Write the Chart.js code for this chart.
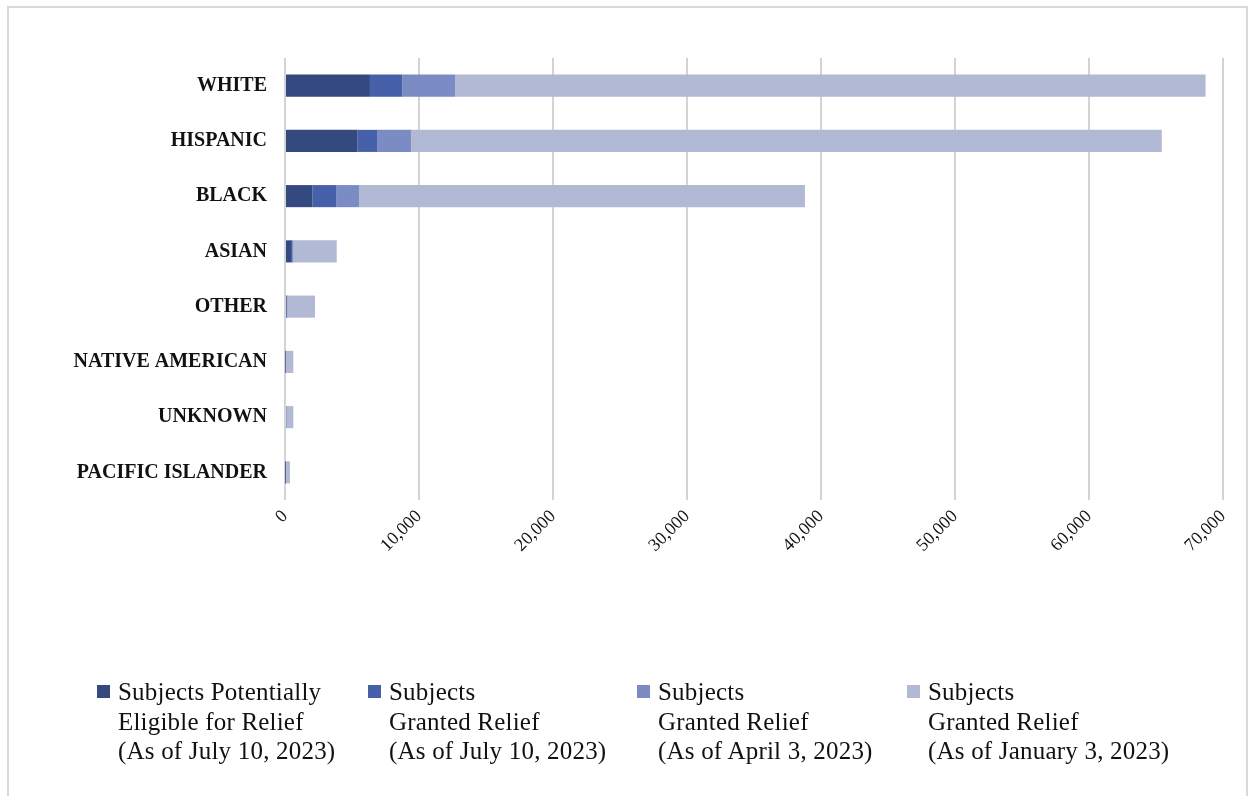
<!DOCTYPE html>
<html>
<head>
<meta charset="utf-8">
<script src="https://cdn.jsdelivr.net/npm/chart.js@4/dist/chart.umd.min.js"></script>
<style>
  html, body { margin: 0; padding: 0; background: #fff; }
  #wrap { position: relative; width: 1253px; height: 796px; overflow: hidden; }
  #frame { position: absolute; left: 7px; top: 6px; width: 1241px; height: 800px;
           border: 2px solid #d9d9d9; box-sizing: border-box; }
  #chart { position: absolute; left: 0; top: 0; }
  #legend { position: absolute; top: 677px; left: 0; width: 1253px;
            font-family: "Liberation Serif", "Times New Roman", serif;
            font-size: 25px; letter-spacing: 0.2px; color: #111; line-height: 29.5px; }
  .item { position: absolute; top: 0; padding-left: 21px; white-space: nowrap; }
  .item .sw { position: absolute; left: 0; top: 8px; width: 13px; height: 13px; }
</style>
</head>
<body>
<div id="wrap">
  <div id="frame"></div>
  <canvas id="chart" width="1253" height="796"></canvas>
  <div id="legend"></div>
</div>
<script>
// categories, top to bottom
const categories = ['WHITE', 'HISPANIC', 'BLACK', 'ASIAN', 'OTHER', 'NATIVE AMERICAN', 'UNKNOWN', 'PACIFIC ISLANDER'];

// stacked segments
const eligibleJul = [6340, 5420, 2040, 450, 120, 30, 80, 20];
const grantedJul  = [2420, 1490, 1770, 80, 30, 10, 20, 5];
const grantedApr  = [3930, 2490, 1710, 100, 40, 20, 30, 10];
const grantedJan  = [56010, 56030, 33280, 3230, 2050, 560, 490, 335];

const seriesLabels = [
  ['Subjects Potentially', 'Eligible for Relief', '(As of July 10, 2023)'],
  ['Subjects', 'Granted Relief', '(As of July 10, 2023)'],
  ['Subjects', 'Granted Relief', '(As of April 3, 2023)'],
  ['Subjects', 'Granted Relief', '(As of January 3, 2023)']
];
const colors = ['#34497f', '#4660a9', '#7b8bc3', '#b2b9d5'];
const legendX = [97, 368, 637, 907];

const serif = '"Liberation Serif", "Times New Roman", serif';
const allData = [eligibleJul, grantedJul, grantedApr, grantedJan];

new Chart(document.getElementById('chart'), {
  type: 'bar',
  data: {
    labels: categories,
    datasets: allData.map((d, i) => ({
      label: seriesLabels[i].join(' '),
      data: d,
      backgroundColor: colors[i],
      borderWidth: 0,
      barPercentage: 0.8,
      categoryPercentage: 0.5,
    })),
  },
  options: {
    indexAxis: 'y',
    responsive: false,
    animation: false,
    layout: { padding: { left: 10, top: 58, right: 30, bottom: 0 } },
    plugins: { legend: { display: false }, tooltip: { enabled: false } },
    scales: {
      x: {
        stacked: true,
        min: 0,
        max: 70000,
        afterFit: s => { s.height = 296; },
        grid: { color: '#d4d4d4', lineWidth: 2, drawTicks: false },
        border: { display: false },
        ticks: {
          stepSize: 10000,
          minRotation: 45,
          maxRotation: 45,
          padding: 6,
          color: '#111',
          font: { family: serif, size: 18 },
          callback: v => v.toLocaleString('en-US'),
        },
      },
      y: {
        stacked: true,
        afterFit: s => { s.width = 275; },
        grid: { display: false, drawTicks: false },
        border: { display: false },
        ticks: {
          padding: 18,
          color: '#111',
          font: { family: serif, size: 20, weight: 'bold' },
        },
      },
    },
  },
});

// html legend with three-line labels
const legend = document.getElementById('legend');
seriesLabels.forEach((lines, i) => {
  const el = document.createElement('div');
  el.className = 'item';
  el.style.left = legendX[i] + 'px';
  el.innerHTML = '<span class="sw" style="background:' + colors[i] + '"></span>' + lines.join('<br>');
  legend.appendChild(el);
});
</script>
</body>
</html>
